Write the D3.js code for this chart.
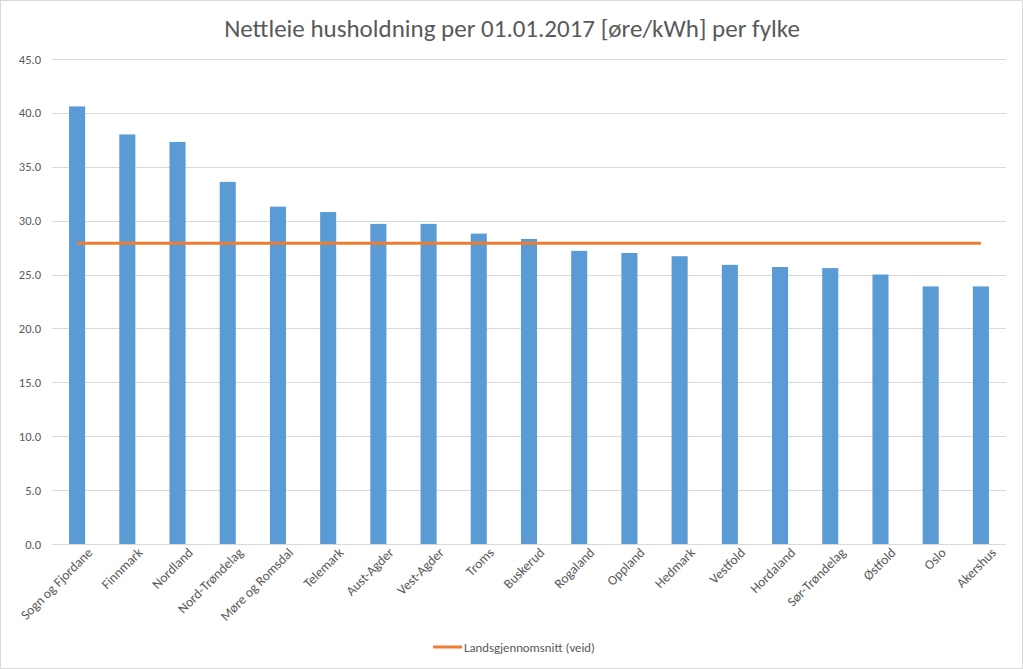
<!DOCTYPE html>
<html>
<head>
<meta charset="utf-8">
<script src="https://cdn.jsdelivr.net/npm/d3@7"></script>
<style>
  body { margin: 0; background: #fff; }
  text { font-family: Carlito, Lato, "Open Sans", sans-serif; fill: #595959; }
</style>
</head>
<body>
<div id="chart"></div>
<script>
// data
var fylker = ["Sogn og Fjordane", "Finnmark", "Nordland", "Nord-Trøndelag", "Møre og Romsdal",
  "Telemark", "Aust-Agder", "Vest-Agder", "Troms", "Buskerud", "Rogaland", "Oppland",
  "Hedmark", "Vestfold", "Hordaland", "Sør-Trøndelag", "Østfold", "Oslo", "Akershus"];
var nettleie = [40.6, 38.0, 37.3, 33.6, 31.3, 30.8, 29.7, 29.7, 28.8, 28.3, 27.2, 27.0,
  26.7, 25.9, 25.7, 25.6, 25.0, 23.9, 23.9];
var snitt = 27.9; // Landsgjennomsnitt (veid)
var yTicks = [0, 5, 10, 15, 20, 25, 30, 35, 40, 45];

var width = 1023, height = 669;
var margin = {top: 59, right: 17, bottom: 125, left: 52};
var w = width - margin.left - margin.right,
    h = height - margin.top - margin.bottom;

var svg = d3.select("#chart").append("svg")
    .attr("width", width)
    .attr("height", height);

// outer frame
svg.append("rect")
    .attr("x", 0.5).attr("y", 0.5)
    .attr("width", width - 1).attr("height", height - 1)
    .attr("fill", "#fff")
    .attr("stroke", "#d9d9d9");

svg.append("text")
    .attr("x", 512)
    .attr("y", 37)
    .attr("text-anchor", "middle")
    .style("font-size", "25px")
    .text("Nettleie husholdning per 01.01.2017 [øre/kWh] per fylke");

var g = svg.append("g")
    .attr("transform", "translate(" + margin.left + "," + margin.top + ")");

var x = d3.scaleBand().domain(fylker).range([0, w]).paddingInner(0.68).paddingOuter(0.34);
var xc = d3.scalePoint().domain(fylker).range([0, w]).padding(0.5);
var y = d3.scaleLinear().domain([0, 45]).range([h, 0]);

// gridlines
g.selectAll(".grid")
    .data(yTicks)
  .enter().append("line")
    .attr("class", "grid")
    .attr("x1", 0).attr("x2", w)
    .attr("y1", function (d) { return Math.round(y(d)) + 0.5; })
    .attr("y2", function (d) { return Math.round(y(d)) + 0.5; })
    .attr("stroke", "#d9d9d9")
    .attr("stroke-width", 1);

// y axis labels
var yAxis = d3.axisLeft(y).tickValues(yTicks).tickSize(0).tickPadding(11)
    .tickFormat(d3.format(".1f"));
g.append("g").call(yAxis)
    .call(function (s) { s.select(".domain").remove(); })
    .selectAll("text")
    .style("font-size", "12.5px")
    .style("fill", "#595959");

// bars
g.selectAll(".bar")
    .data(nettleie)
  .enter().append("rect")
    .attr("class", "bar")
    .attr("x", function (d, i) { return x(fylker[i]); })
    .attr("width", x.bandwidth())
    .attr("y", function (d) { return y(d); })
    .attr("height", function (d) { return h - y(d); })
    .attr("fill", "#5b9bd5");

// average line
var line = d3.line()
    .x(function (d) { return xc(d); })
    .y(function () { return y(snitt); });
g.append("path")
    .datum(fylker)
    .attr("d", line)
    .attr("fill", "none")
    .attr("stroke", "#ed7d31")
    .attr("stroke-width", 3);

// category labels
var xAxis = d3.axisBottom(x).tickSize(0).tickPadding(8);
g.append("g")
    .attr("transform", "translate(0," + h + ")")
    .call(xAxis)
    .call(function (s) { s.select(".domain").remove(); })
    .selectAll("text")
    .style("font-size", "13.5px")
    .style("fill", "#595959")
    .attr("text-anchor", "end")
    .attr("dx", "0.35em")
    .attr("dy", "0.75em")
    .attr("transform", "rotate(-45)");

// legend
var leg = svg.append("g").attr("transform", "translate(433,647)");
leg.append("line")
    .attr("x1", 0).attr("x2", 29)
    .attr("stroke", "#ed7d31").attr("stroke-width", 3);
leg.append("text")
    .attr("x", 31).attr("y", 4.5)
    .style("font-size", "12.8px")
    .text("Landsgjennomsnitt (veid)");
</script>
</body>
</html>
